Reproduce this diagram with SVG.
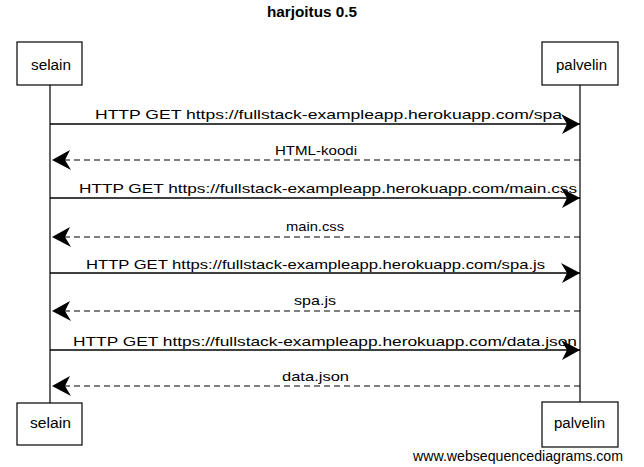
<svg xmlns="http://www.w3.org/2000/svg" width="644" height="467" viewBox="0 0 644 467">
<defs>
<style>
.t{font-family:"Liberation Sans","DejaVu Sans",sans-serif;font-size:13px;fill:#000}
.box{fill:#fff;stroke:#000;stroke-width:1.2}
.life{stroke:#000;stroke-width:1.2;fill:none}
.msg{stroke:#000;stroke-width:1.5;fill:none}
.ret{stroke:#000;stroke-width:1.2;fill:none;stroke-dasharray:6,4}
</style>
<marker id="ah" viewBox="0 0 20 20" refX="19" refY="10" markerWidth="20" markerHeight="20" markerUnits="userSpaceOnUse" orient="auto">
<path d="M0,0 L19,10 L1,20 L6,10 Z" fill="#000"/>
</marker>
</defs>
<rect width="644" height="467" fill="#fff"/>
<text class="t" x="312" y="17" text-anchor="middle" font-weight="bold" style="font-size:14px" textLength="90" lengthAdjust="spacingAndGlyphs">harjoitus 0.5</text>

<g id="lifelines">
<path class="life" d="M50,85 L50,403"/>
<path class="life" d="M580,85 L580,402"/>
</g>

<g id="selain-top"><rect class="box" x="17" y="42" width="65" height="43"/><text class="t" x="31" y="70" style="font-size:14px" textLength="40" lengthAdjust="spacingAndGlyphs">selain</text></g>
<g id="palvelin-top"><rect class="box" x="542" y="42" width="76" height="43"/><text class="t" x="556" y="70" style="font-size:14px" textLength="51" lengthAdjust="spacingAndGlyphs">palvelin</text></g>
<g id="selain-bottom"><rect class="box" x="17" y="403" width="65" height="42"/><text class="t" x="30" y="428" style="font-size:14px" textLength="41" lengthAdjust="spacingAndGlyphs">selain</text></g>
<g id="palvelin-bottom"><rect class="box" x="542" y="402" width="76" height="45"/><text class="t" x="554" y="428" style="font-size:14px" textLength="51" lengthAdjust="spacingAndGlyphs">palvelin</text></g>

<g id="connectors">
<path class="msg" d="M50,124 L580,124" marker-end="url(#ah)"/>
<path class="ret" d="M580,160 L52,160" marker-end="url(#ah)"/>
<path class="msg" d="M50,198 L580,198" marker-end="url(#ah)"/>
<path class="ret" d="M580,237 L52,237" marker-end="url(#ah)"/>
<path class="msg" d="M50,273 L580,273" marker-end="url(#ah)"/>
<path class="ret" d="M580,311 L52,311" marker-end="url(#ah)"/>
<path class="msg" d="M50,350 L580,350" marker-end="url(#ah)"/>
<path class="ret" d="M580,386 L52,386" marker-end="url(#ah)"/>
</g>

<g id="labels">
<text class="t" x="95" y="119" textLength="467" lengthAdjust="spacingAndGlyphs">HTTP GET https://fullstack-exampleapp.herokuapp.com/spa</text>
<text class="t" x="275" y="155" textLength="82" lengthAdjust="spacingAndGlyphs">HTML-koodi</text>
<text class="t" x="79" y="193" textLength="498" lengthAdjust="spacingAndGlyphs">HTTP GET https://fullstack-exampleapp.herokuapp.com/main.css</text>
<text class="t" x="286" y="231" textLength="58" lengthAdjust="spacingAndGlyphs">main.css</text>
<text class="t" x="86" y="269" textLength="459" lengthAdjust="spacingAndGlyphs">HTTP GET https://fullstack-exampleapp.herokuapp.com/spa.js</text>
<text class="t" x="294" y="305" textLength="42" lengthAdjust="spacingAndGlyphs">spa.js</text>
<text class="t" x="73" y="346" textLength="504" lengthAdjust="spacingAndGlyphs">HTTP GET https://fullstack-exampleapp.herokuapp.com/data.json</text>
<text class="t" x="282" y="381" textLength="67" lengthAdjust="spacingAndGlyphs">data.json</text>
</g>

<text x="413" y="461" font-family="'Liberation Sans',Arial,sans-serif" font-size="14" fill="#000" textLength="210" lengthAdjust="spacingAndGlyphs">www.websequencediagrams.com</text>
</svg>
